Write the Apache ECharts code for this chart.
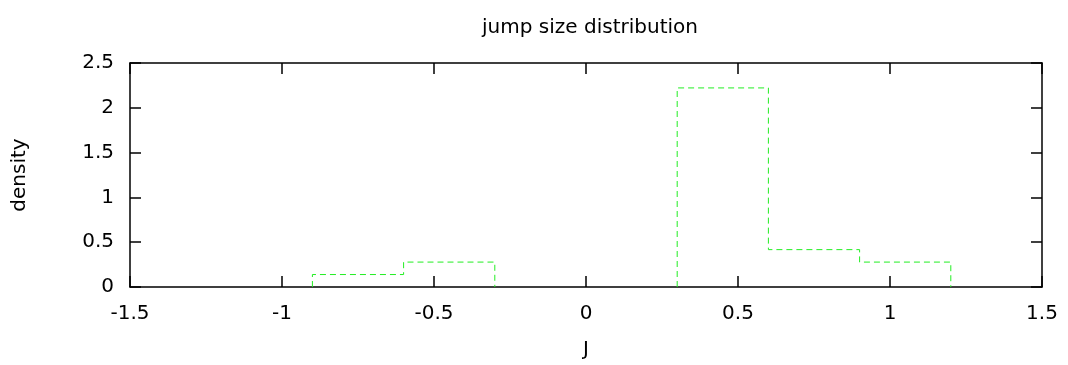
<!DOCTYPE html>
<html>
<head>
<meta charset="utf-8">
<title>jump size distribution</title>
<script src="https://cdn.jsdelivr.net/npm/echarts@6/dist/echarts.min.js"></script>
<style>
  html, body { margin: 0; padding: 0; background: #ffffff; }
  #chart { width: 1068px; height: 365px; }
</style>
</head>
<body>
<div id="chart"></div>
<script>
// Histogram of jump sizes J (bin width 0.3), shown as a density step outline
const binEdges = [-0.9, -0.6, -0.3, 0, 0.3, 0.6, 0.9, 1.2];
const density = [0.139, 0.278, 0, 0, 2.222, 0.417, 0.278];

const xTicks = [-1.5, -1, -0.5, 0, 0.5, 1, 1.5];
const yTicks = [0, 0.5, 1, 1.5, 2, 2.5];

// Outline of the histogram: each run of non-empty bins is drawn as its own
// closed-at-the-baseline step path; empty bins lie on the frame and are skipped.
const outline = [];
let open = false;
for (let i = 0; i < density.length; i++) {
  const d = density[i];
  if (d > 0) {
    if (!open) { outline.push([binEdges[i], 0]); open = true; }
    outline.push([binEdges[i], d]);
    outline.push([binEdges[i + 1], d]);
  } else if (open) {
    outline.push([binEdges[i], 0]);
    outline.push(null);
    open = false;
  }
}
if (open) outline.push([binEdges[binEdges.length - 1], 0]);

const FONT = 'DejaVu Sans';
const labelStyle = { color: '#000', fontFamily: FONT, fontSize: 20 };
const frameLine = { show: true, onZero: false, lineStyle: { color: '#000', width: 1.5 } };
const innerTick = { show: true, inside: true, length: 11, lineStyle: { color: '#000', width: 1.5 } };

const xBase = {
  type: 'value',
  min: xTicks[0],
  max: xTicks[xTicks.length - 1],
  interval: xTicks[1] - xTicks[0],
  splitLine: { show: false },
  axisLine: frameLine,
  axisTick: innerTick
};
const yBase = {
  type: 'value',
  min: yTicks[0],
  max: yTicks[yTicks.length - 1],
  interval: yTicks[1] - yTicks[0],
  splitLine: { show: false },
  axisLine: frameLine,
  axisTick: innerTick
};

const chart = echarts.init(document.getElementById('chart'), null, { renderer: 'canvas' });
chart.setOption({
  animation: false,
  backgroundColor: '#ffffff',
  title: {
    text: 'jump size distribution',
    left: 585,
    top: 13,
    textAlign: 'center',
    textStyle: { color: '#000', fontFamily: FONT, fontSize: 20, fontWeight: 'normal' }
  },
  grid: { left: 130, right: 26, top: 63, bottom: 78 },
  xAxis: [
    Object.assign({}, xBase, {
      position: 'bottom',
      name: 'J',
      nameLocation: 'middle',
      nameGap: 53,
      nameTextStyle: labelStyle,
      axisLabel: Object.assign({ margin: 17, formatter: v => String(v) }, labelStyle)
    }),
    Object.assign({}, xBase, {
      position: 'top',
      axisLabel: { show: false }
    })
  ],
  yAxis: [
    Object.assign({}, yBase, {
      position: 'left',
      name: 'density',
      nameLocation: 'middle',
      nameGap: 100,
      nameTextStyle: labelStyle,
      axisLabel: Object.assign({ margin: 16, formatter: v => String(v) }, labelStyle)
    }),
    Object.assign({}, yBase, {
      position: 'right',
      axisLabel: { show: false }
    })
  ],
  series: [{
    type: 'line',
    data: outline,
    connectNulls: false,
    showSymbol: false,
    symbol: 'none',
    lineStyle: { color: '#22ee22', width: 1, type: [6, 4] }
  }]
});
</script>
</body>
</html>
